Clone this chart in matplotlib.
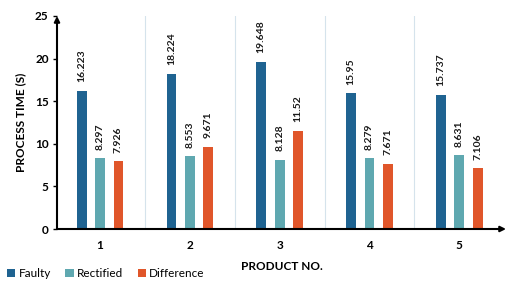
import matplotlib.pyplot as plt
import numpy as np

products = ["1", "2", "3", "4", "5"]
faulty = [16.223, 18.224, 19.648, 15.95, 15.737]
rectified = [8.297, 8.553, 8.128, 8.279, 8.631]
difference = [7.926, 9.671, 11.52, 7.671, 7.106]

plt.rcParams["font.family"] = ["Lato", "DejaVu Sans"]

fig = plt.figure(figsize=(5.06, 2.82), dpi=100)
ax = fig.add_axes([57 / 506, 1 - 229 / 282, 449 / 506, 213 / 282])

x = np.arange(len(products))
width = 0.11
offset = 0.205
series = [
    (faulty, "Faulty", "#1f6391"),
    (rectified, "Rectified", "#5fa8b0"),
    (difference, "Difference", "#e0562a"),
]
for i, (vals, name, color) in enumerate(series):
    pos = x + (i - 1) * offset
    ax.bar(pos, vals, width=width, color=color, label=name, zorder=3)
    for px, v in zip(pos, vals):
        ax.text(px, v + 1.0, f"{v:g}", rotation=90, ha="center", va="bottom",
                fontsize=7.5, fontweight="bold", color="#1a1a1a")

# light separators between product groups
for b in x[:-1] + 0.5:
    ax.axvline(b, color="#d5e3ec", lw=0.8, zorder=1)

ax.set_xlim(-0.48, 4.52)
ax.set_ylim(0, 25)
ax.set_yticks([0, 5, 10, 15, 20, 25])
ax.set_xticks(x)
ax.set_xticklabels(products)
for lab in ax.get_xticklabels() + ax.get_yticklabels():
    lab.set_fontweight("bold")
    lab.set_fontsize(8.5)
ax.tick_params(axis="x", length=0, pad=8)
ax.tick_params(axis="y", length=3, width=1, pad=3)

for s in ["top", "right", "left", "bottom"]:
    ax.spines[s].set_visible(False)
ax.annotate("", xy=(0, 1.0), xytext=(0, 0), xycoords="axes fraction",
            arrowprops=dict(arrowstyle="-|>", color="black", lw=1.5,
                            mutation_scale=8, shrinkA=0, shrinkB=0))
ax.annotate("", xy=(1.0, 0), xytext=(0, 0), xycoords="axes fraction",
            arrowprops=dict(arrowstyle="-|>", color="black", lw=1.5,
                            mutation_scale=8, shrinkA=0, shrinkB=0))

ax.set_ylabel("PROCESS TIME (S)", fontsize=8.5, fontweight="bold", labelpad=6)
ax.set_xlabel("PRODUCT NO.", fontsize=8.5, fontweight="bold", labelpad=7)

fig.legend(loc="lower left", bbox_to_anchor=(0.0, -0.015), ncol=3, frameon=False,
           fontsize=8.5, handlelength=0.7, handleheight=0.7, handletextpad=0.3,
           columnspacing=1.2, borderaxespad=0.2)

fig.savefig("out.png", dpi=100)
